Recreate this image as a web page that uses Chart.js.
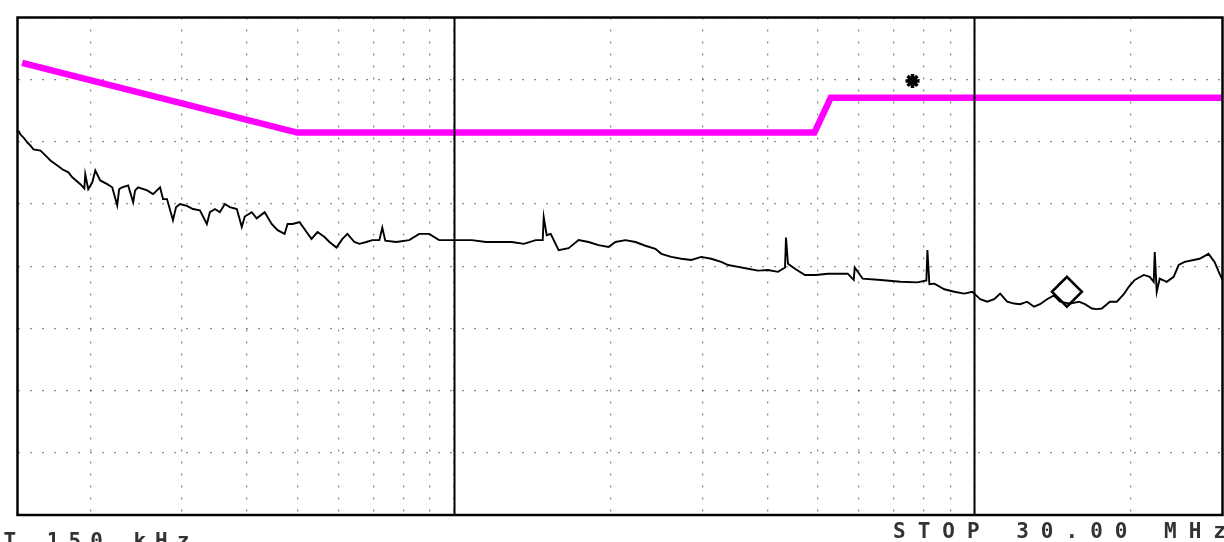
<!DOCTYPE html>
<html>
<head>
<meta charset="utf-8">
<script src="https://cdn.jsdelivr.net/npm/chart.js@4.4.1/dist/chart.umd.min.js"></script>
<style>
    body { margin: 0; background: #fff; overflow: hidden; }
    #wrap { position: relative; width: 1240px; height: 542px; }
</style>
</head>
<body>
<div id="wrap"><canvas id="emi-chart"></canvas></div>
<script>
// conducted emission scan, 150 kHz .. 30 MHz, level in dBuV
const freqMHz = [
    0.1456, 0.1469, 0.1489, 0.1515, 0.1536, 0.1556, 0.1605, 0.1633, 0.1655, 0.1677,
    0.1730, 0.1768, 0.1816, 0.1848, 0.1915, 0.1949, 0.1957, 0.1983, 0.2019, 0.2046,
    0.2091, 0.2157, 0.2205, 0.2254, 0.2274, 0.2304, 0.2366, 0.2419, 0.2440, 0.2473,
    0.2573, 0.2642, 0.2725, 0.2761, 0.2810, 0.2885, 0.2924, 0.2976, 0.3069, 0.3152,
    0.3250, 0.3352, 0.3397, 0.3473, 0.3550, 0.3629, 0.3710, 0.3827, 0.3912, 0.3964,
    0.4088, 0.4179, 0.4329, 0.4465, 0.4584, 0.4728, 0.4791, 0.4898, 0.5052, 0.5210,
    0.5326, 0.5469, 0.5641, 0.5766, 0.5947, 0.6107, 0.6243, 0.6439, 0.6582, 0.6789,
    0.6971, 0.7190, 0.7285, 0.7382, 0.7749, 0.8207, 0.8577, 0.8964, 0.9368, 0.9921,
    1.0832, 1.1523, 1.2204, 1.2924, 1.3625, 1.4366, 1.4817, 1.4882, 1.5080, 1.5348,
    1.5899, 1.6617, 1.7366, 1.8149, 1.8968, 1.9823, 2.0446, 2.1368, 2.2332, 2.3339,
    2.4392, 2.5046, 2.6175, 2.7357, 2.8590, 2.9880, 3.1228, 3.2636, 3.3661, 3.5179,
    3.6766, 3.8424, 4.0157, 4.1968, 4.3284, 4.3475, 4.3860, 4.5235, 4.7275, 4.9627,
    5.2323, 5.7139, 5.8671, 5.8931, 6.1045, 6.6104, 7.2159, 7.7776, 8.0924, 8.1282,
    8.2002, 8.3830, 8.7612, 9.1563, 9.5695, 9.9131, 10.269, 10.591, 10.923, 11.216,
    11.568, 11.930, 12.250, 12.634, 13.030, 13.380, 13.799, 14.232, 14.616, 15.275,
    15.894, 16.320, 16.832, 17.207, 17.591, 18.222, 18.794, 19.384, 19.817, 20.349,
    21.175, 21.743, 22.130, 22.228, 22.424, 22.723, 23.436, 24.171, 24.710, 25.372,
    26.399, 27.107, 28.205, 28.961, 29.606, 30.000
];
const levelDb = [
    61.8, 61.2, 60.7, 59.9, 59.4, 58.8, 58.6, 58.0, 57.5, 57.0,
    56.2, 55.6, 55.1, 54.3, 53.2, 52.5, 54.8, 52.4, 53.5, 55.4,
    53.8, 53.2, 52.7, 49.8, 52.4, 52.7, 53.0, 50.3, 52.2, 52.7,
    52.2, 51.6, 52.7, 50.8, 50.8, 47.4, 49.5, 50.0, 49.7, 49.2,
    49.0, 46.8, 48.7, 49.2, 48.7, 50.0, 49.5, 49.2, 46.3, 48.0,
    48.7, 47.7, 48.7, 46.8, 45.8, 45.2, 46.8, 46.8, 47.1, 45.5,
    44.4, 45.5, 44.7, 43.9, 43.0, 44.4, 45.2, 43.9, 43.6, 43.9,
    44.2, 44.2, 46.2, 44.1, 43.9, 44.2, 45.2, 45.2, 44.2, 44.2,
    44.2, 43.9, 43.9, 43.9, 43.6, 44.2, 44.2, 47.9, 45.0, 45.2,
    42.6, 42.9, 44.2, 43.9, 43.4, 43.1, 43.9, 44.2, 43.9, 43.3,
    42.8, 42.0, 41.5, 41.2, 41.0, 41.5, 41.2, 40.7, 40.2, 39.9,
    39.6, 39.3, 39.4, 39.1, 39.8, 44.6, 40.4, 39.6, 38.6, 38.6,
    38.8, 38.8, 37.8, 39.8, 38.0, 37.8, 37.5, 37.4, 37.7, 42.6,
    37.1, 37.2, 36.3, 35.9, 35.6, 35.9, 34.7, 34.3, 34.7, 35.6,
    34.3, 34.0, 33.9, 34.3, 33.5, 33.9, 34.7, 35.3, 34.3, 34.0,
    34.3, 33.9, 33.2, 33.1, 33.2, 34.3, 34.3, 35.5, 36.7, 37.8,
    38.6, 38.3, 37.5, 42.3, 35.9, 38.0, 37.5, 38.3, 40.2, 40.7,
    41.0, 41.2, 42.0, 40.7, 38.8, 37.8
];

// class B style limit line
const limitFreq = [0.148, 0.5, 4.93, 5.3, 30];
const limitDb = [72.7, 61.5, 61.5, 67.1, 67.1];

// analyser markers
const starFreq = [7.61];
const starDb = [69.8];
const diamondFreq = [15.07];
const diamondDb = [35.9];

const gridFreq = [0.2, 0.3, 0.4, 0.5, 0.6, 0.7, 0.8, 0.9, 1, 2, 3, 4, 5, 6, 7, 8, 9, 10, 20];
const decadeFreq = [1, 10];
const yMin = 0, yMax = 80, yStep = 10;

const startLabel = 'START 150 kHz';
const stopLabel = 'STOP 30.00 MHz';

const toPoints = (xs, ys) => xs.map((x, i) => ({ x: x, y: ys[i] }));

const framePlugin = {
    id: 'frame',
    afterDatasetsDraw(chart) {
        const { ctx, chartArea: a, scales } = chart;
        ctx.save();
        ctx.strokeStyle = '#000';
        ctx.lineWidth = 2;
        decadeFreq.forEach(f => {
            const px = Math.round(scales.x.getPixelForValue(f)) + 0.5;
            ctx.beginPath();
            ctx.moveTo(px, a.top);
            ctx.lineTo(px, a.bottom);
            ctx.stroke();
        });
        ctx.lineWidth = 2.5;
        ctx.strokeRect(a.left, a.top, a.right - a.left, a.bottom - a.top);

        ctx.fillStyle = '#333';
        ctx.font = 'bold 21px "DejaVu Sans Mono"';
        ctx.textBaseline = 'alphabetic';
        ctx.letterSpacing = '9px';
        ctx.fillText(startLabel, -83, 548);
        ctx.letterSpacing = '12px';
        ctx.fillText(stopLabel, 893, 538);
        ctx.restore();
    }
};

new Chart(document.getElementById('emi-chart'), {
    type: 'line',
    data: {
        datasets: [
            {
                label: 'Limit',
                data: toPoints(limitFreq, limitDb),
                borderColor: '#ff00ff',
                borderWidth: 6.5,
                pointRadius: 0,
                tension: 0,
                order: 1
            },
            {
                label: 'Scan',
                data: toPoints(freqMHz, levelDb),
                borderColor: '#000',
                borderWidth: 1.9,
                pointRadius: 0,
                tension: 0,
                order: 2
            },
            {
                label: 'Marker',
                data: toPoints(starFreq, starDb),
                showLine: false,
                pointStyle: 'star',
                pointRadius: 7,
                borderColor: '#000',
                borderWidth: 3.5,
                order: 0
            },
            {
                label: 'Delta',
                data: toPoints(diamondFreq, diamondDb),
                showLine: false,
                pointStyle: 'rectRot',
                pointRadius: 15,
                borderColor: '#000',
                backgroundColor: 'rgba(0,0,0,0)',
                borderWidth: 2.5,
                order: 0
            }
        ]
    },
    options: {
        responsive: true,
        maintainAspectRatio: false,
        animation: false,
        layout: { padding: { left: 17, right: 14, top: 12, bottom: 27 } },
        plugins: {
            legend: { display: false },
            tooltip: { enabled: false }
        },
        scales: {
            x: {
                type: 'logarithmic',
                min: 0.145,
                max: 30,
                afterBuildTicks: axis => {
                    axis.ticks = gridFreq.map(v => ({ value: v }));
                },
                ticks: { display: false },
                grid: { color: 'rgba(0,0,0,0.45)', lineWidth: 1.3, drawTicks: false },
                border: { display: false, dash: [2, 10] }
            },
            y: {
                min: yMin,
                max: yMax,
                ticks: { display: false, stepSize: yStep },
                grid: { color: 'rgba(0,0,0,0.45)', lineWidth: 1.3, drawTicks: false },
                border: { display: false, dash: [2, 10] }
            }
        }
    },
    plugins: [framePlugin]
});
</script>
</body>
</html>
